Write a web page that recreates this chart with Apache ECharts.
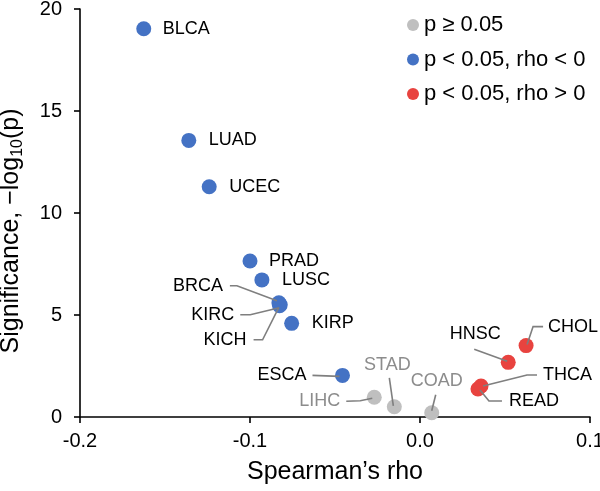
<!DOCTYPE html>
<html>
<head>
<meta charset="utf-8">
<script src="https://cdn.jsdelivr.net/npm/echarts@6/dist/echarts.min.js"></script>
<style>
html,body{margin:0;padding:0;background:#fff;}
#chart{width:600px;height:491px;}
</style>
</head>
<body>
<div id="chart"></div>
<script>
// ---- data ----
const cancerTypes = ['BLCA','LUAD','UCEC','PRAD','LUSC','BRCA','KIRC','KICH','KIRP','ESCA','LIHC','STAD','COAD','HNSC','CHOL','THCA','READ'];
const spearmanRho = [-0.1625,-0.136,-0.124,-0.100,-0.093,-0.0830,-0.0822,-0.0826,-0.0755,-0.0456,-0.0269,-0.0151,0.0069,0.0519,0.0624,0.0359,0.0341];
const significance = [19.03,13.56,11.29,7.65,6.72,5.60,5.50,5.45,4.59,2.04,0.97,0.50,0.21,2.68,3.50,1.52,1.37];
const xTicks = [-0.2,-0.1,0.0,0.1];
const yTicks = [0,5,10,15,20];
const legendNames = ['p \u2265 0.05','p < 0.05, rho < 0','p < 0.05, rho > 0'];
const pThreshold = -Math.log10(0.05);

// ---- styles / label placement (pixel offsets from the point) ----
const colors = ['#BFBFBF','#4472C4','#E8433F'];
const FONT = '"Liberation Sans", Arial, Helvetica, sans-serif';
const labelPlacement = {
  BLCA:{dx:19,dy:0,align:'left'},
  LUAD:{dx:20,dy:0,align:'left'},
  UCEC:{dx:20,dy:0,align:'left'},
  PRAD:{dx:19,dy:0,align:'left'},
  LUSC:{dx:20,dy:0,align:'left'},
  KIRP:{dx:20,dy:0,align:'left'},
  BRCA:{dx:-56,dy:-17,align:'right',line:[[-49,-17],[-42,-17],[-2,-2]]},
  KIRC:{dx:-46,dy:10,align:'right',line:[[-40,10],[-30,10],[-1,3]]},
  KICH:{dx:-33,dy:34,align:'right',line:[[-26,34],[-17,34],[-1,2]]},
  ESCA:{dx:-36,dy:0,align:'right',line:[[-30,0],[-3,1]]},
  LIHC:{dx:-34,dy:4,align:'right',line:[[-28,4],[-14,3.5],[-2,1]]},
  STAD:{dx:-7,dy:-42,align:'center',line:[[-5,-29],[-1,-1]]},
  COAD:{dx:5,dy:-32,align:'center',line:[[4,-18],[0,-2]]},
  HNSC:{dx:-33,dy:-28,align:'center',line:[[-34,-13],[-1,-1]]},
  CHOL:{dx:22,dy:-19,align:'left',line:[[17,-19],[7,-19],[1,-1]]},
  THCA:{dx:62,dy:-11,align:'left',line:[[56,-11],[46,-11],[2,0]]},
  READ:{dx:31,dy:12,align:'left',line:[[24,12],[11,12],[2,1]]}
};

function groupOf(i){
  if (significance[i] < pThreshold) return 0;
  return spearmanRho[i] < 0 ? 1 : 2;
}
const groupData = [[],[],[]];
const allData = [];
cancerTypes.forEach((n,i)=>{
  groupData[groupOf(i)].push({name:n, value:[spearmanRho[i], significance[i]]});
  allData.push({name:n, value:[spearmanRho[i], significance[i], i]});
});

const chart = echarts.init(document.getElementById('chart'), null, {renderer:'canvas'});

const scatterSeries = legendNames.map((nm,g)=>({
  name: nm,
  type: 'scatter',
  symbol: 'circle',
  symbolSize: 15,
  itemStyle: {color: colors[g], opacity: 1},
  data: groupData[g],
  z: 2
}));

const annotationSeries = {
  name: 'labels',
  type: 'custom',
  silent: true,
  clip: false,
  z: 3,
  data: allData,
  renderItem: function(params, api){
    const i = api.value(2);
    const name = cancerTypes[i];
    const pt = api.coord([api.value(0), api.value(1)]);
    const lp = labelPlacement[name];
    const g = groupOf(i);
    const children = [];
    if (lp.line){
      children.push({
        type:'polyline',
        shape:{points: lp.line.map(p=>[pt[0]+p[0], pt[1]+p[1]])},
        style:{stroke:'#7F7F7F', lineWidth:1.6, fill:null}
      });
    }
    children.push({
      type:'text',
      x: pt[0]+lp.dx, y: pt[1]+lp.dy,
      style:{
        text: name,
        fill: g === 0 ? '#8C8C8C' : '#000000',
        fontSize: 18,
        fontFamily: FONT,
        align: lp.align,
        verticalAlign: 'middle'
      }
    });
    return {type:'group', children: children};
  }
};

chart.setOption({
  backgroundColor: '#ffffff',
  animation: false,
  textStyle: {fontFamily: FONT},
  grid: {left: 80, right: 10, top: 9, bottom: 74, containLabel: false, outerBoundsMode: 'none'},
  legend: {
    data: legendNames,
    orient: 'vertical',
    left: 402,
    top: 9,
    itemWidth: 12,
    itemHeight: 12,
    itemGap: 12.5,
    icon: 'circle',
    textStyle: {fontSize: 22, color: '#000', fontFamily: FONT, padding:[0,0,0,0]}
  },
  xAxis: {
    type: 'value',
    min: xTicks[0],
    max: xTicks[xTicks.length-1],
    interval: 0.1,
    name: 'Spearman\u2019s rho',
    nameLocation: 'middle',
    nameGap: 43,
    nameTextStyle: {fontSize: 25, color: '#000', fontFamily: FONT},
    axisLine: {show: true, onZero: false, lineStyle: {color: '#000', width: 1.6}},
    axisTick: {show: true, inside: false, length: 6, lineStyle: {color: '#000', width: 1.6}},
    axisLabel: {fontSize: 20, color: '#000', margin: 14, fontFamily: FONT, hideOverlap: false,
      formatter: v => { const r = Math.round(v*10)/10; return (Math.abs(r) < 1e-9 ? 0 : r).toFixed(1); }},
    splitLine: {show: false}
  },
  yAxis: {
    type: 'value',
    min: yTicks[0],
    max: yTicks[yTicks.length-1],
    interval: 5,
    name: 'Significance, \u2212log{sub|10}(p)',
    nameLocation: 'middle',
    nameGap: 54,
    nameTextStyle: {fontSize: 25, color: '#000', fontFamily: FONT, padding: [0, 36, 0, 0],
      rich: {sub: {fontSize: 16, fontFamily: FONT, color: '#000', verticalAlign: 'bottom', lineHeight: 30}}},
    axisLine: {show: true, onZero: false, lineStyle: {color: '#000', width: 1.6}},
    axisTick: {show: true, inside: false, length: 6, lineStyle: {color: '#000', width: 1.6}},
    axisLabel: {fontSize: 20, color: '#000', margin: 18, fontFamily: FONT},
    splitLine: {show: false}
  },
  series: scatterSeries.concat([annotationSeries])
});
</script>
</body>
</html>
